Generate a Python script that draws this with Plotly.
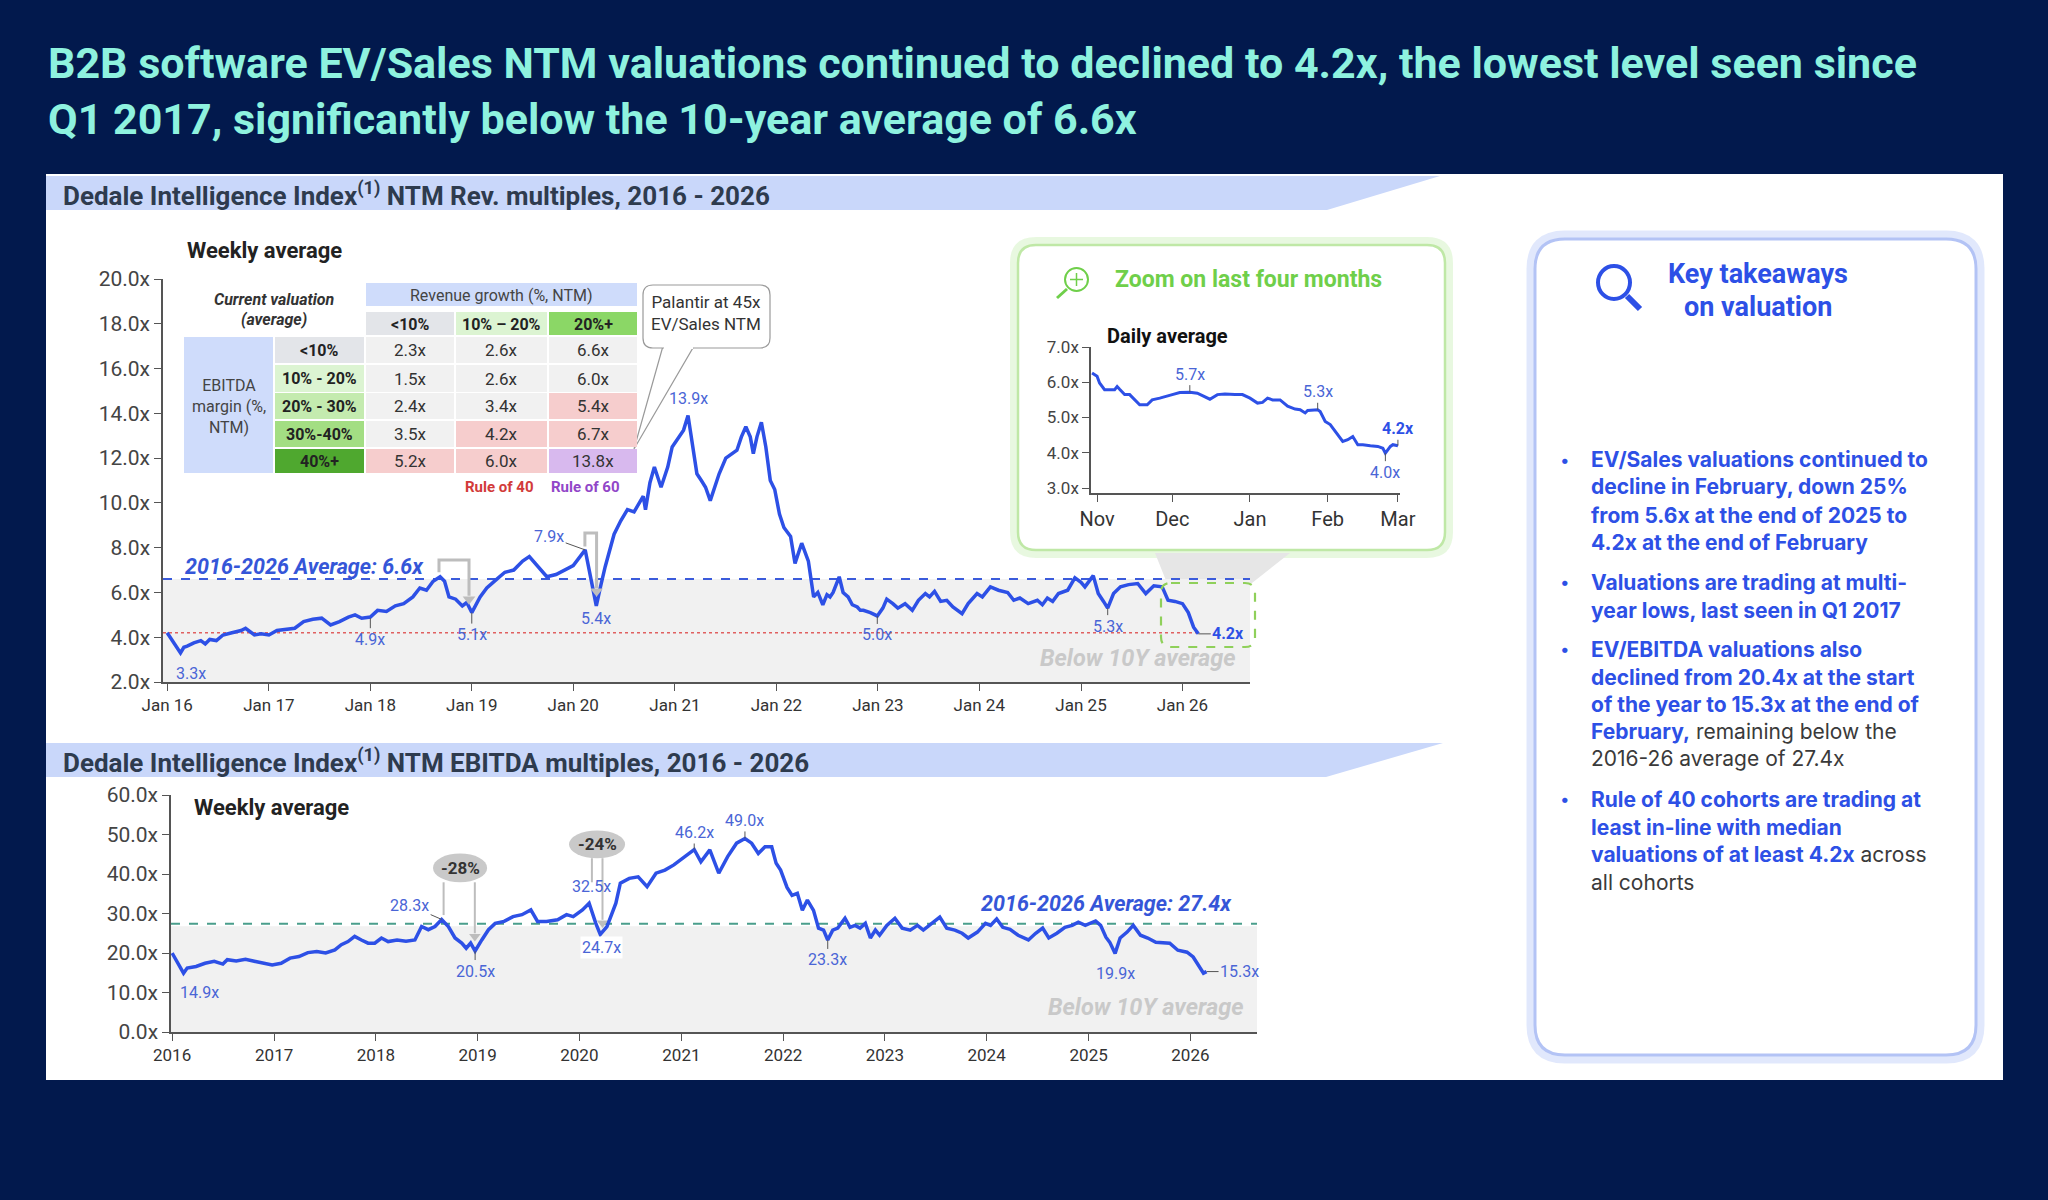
import plotly.graph_objects as go

W, H = 2048, 1200


def fx(p):
    return p / W


def fy(p):
    return 1 - p / H


NAVY = '#02194d'
BLUE = '#2d50e6'
LABEL = '#4a65d6'
AX = '#555555'
GREY_TXT = '#c9c9c9'
BRACKET = '#bdbdbd'

# ---------------------------------------------------------------- data
# EV/Sales NTM, weekly average
evs_dates = ['2016-01-01', '2016-01-12', '2016-01-25', '2016-02-18', '2016-03-01', '2016-03-13',
             '2016-04-06', '2016-05-01', '2016-05-17', '2016-06-02', '2016-06-26', '2016-07-20',
             '2016-08-21', '2016-09-23', '2016-10-09', '2016-10-25', '2016-11-10', '2016-12-04',
             '2017-01-01', '2017-01-30', '2017-03-03', '2017-04-04', '2017-05-06', '2017-06-08',
             '2017-07-10', '2017-08-11', '2017-09-12', '2017-10-14', '2017-11-07', '2017-12-01',
             '2018-01-01', '2018-01-27', '2018-02-28', '2018-04-01', '2018-05-01', '2018-06-03',
             '2018-06-28', '2018-07-22', '2018-08-15', '2018-09-09', '2018-09-25', '2018-10-11',
             '2018-11-04', '2018-11-28', '2018-12-14', '2019-01-01', '2019-01-31', '2019-02-24',
             '2019-03-28', '2019-04-30', '2019-06-01', '2019-07-03', '2019-07-27', '2019-08-28',
             '2019-09-28', '2019-10-31', '2019-12-02', '2020-01-01', '2020-02-13', '2020-03-05',
             '2020-03-24', '2020-04-09', '2020-04-25', '2020-05-27', '2020-06-20', '2020-07-14',
             '2020-08-07', '2020-09-09', '2020-09-17', '2020-10-03', '2020-10-19', '2020-11-12',
             '2020-12-06', '2020-12-22', '2021-01-16', '2021-02-01', '2021-02-17', '2021-03-05',
             '2021-03-21', '2021-04-06', '2021-04-21', '2021-05-08', '2021-05-24', '2021-06-09',
             '2021-07-03', '2021-07-27', '2021-08-12', '2021-08-28', '2021-09-13', '2021-09-29',
             '2021-10-10', '2021-10-23', '2021-11-08', '2021-11-24', '2021-12-10', '2021-12-26',
             '2022-01-12', '2022-01-28', '2022-02-21', '2022-03-09', '2022-04-02', '2022-04-26',
             '2022-05-15', '2022-05-30', '2022-06-17', '2022-07-02', '2022-07-13', '2022-07-24',
             '2022-08-15', '2022-08-29', '2022-09-16', '2022-10-01', '2022-10-19', '2022-10-30',
             '2022-11-10', '2022-12-05', '2022-12-30', '2023-01-19', '2023-02-02', '2023-02-24',
             '2023-03-14', '2023-04-09', '2023-05-05', '2023-05-27', '2023-06-21', '2023-07-06',
             '2023-07-24', '2023-08-15', '2023-09-06', '2023-09-28', '2023-10-31', '2023-11-22',
             '2023-12-24', '2024-01-12', '2024-02-10', '2024-03-10', '2024-04-12', '2024-05-04',
             '2024-05-26', '2024-06-25', '2024-07-28', '2024-08-15', '2024-09-02', '2024-09-21',
             '2024-10-12', '2024-11-14', '2024-12-10', '2025-01-01', '2025-01-15', '2025-02-14',
             '2025-03-04', '2025-03-23', '2025-04-07', '2025-04-28', '2025-05-23', '2025-06-21',
             '2025-07-24', '2025-08-22', '2025-09-20', '2025-10-20', '2025-11-10', '2025-12-05',
             '2026-01-01', '2026-01-22', '2026-02-10', '2026-02-27']
evs_vals = [4.2, 4.0, 3.7, 3.3, 3.55, 3.6,
            3.75, 3.85, 3.7, 3.9, 3.85, 4.1,
            4.2, 4.3, 4.4, 4.25, 4.1, 4.15,
            4.1, 4.3, 4.35, 4.4, 4.7, 4.8,
            4.85, 4.55, 4.7, 4.9, 5.0, 4.85,
            4.9, 5.2, 5.15, 5.4, 5.5, 5.8,
            6.2, 6.1, 6.5, 6.7, 6.5, 5.8,
            5.7, 5.4, 5.55, 5.1, 5.8, 6.2,
            6.55, 6.9, 7.0, 7.4, 7.6, 7.15,
            6.7, 6.8, 7.0, 7.2, 7.9, 6.6,
            5.4, 6.3, 7.15, 8.6, 9.2, 9.7,
            9.6, 10.3, 9.7, 10.9, 11.6, 10.7,
            11.6, 12.5, 13.0, 13.25, 13.9, 12.5,
            11.3, 11.0, 10.7, 10.1, 10.7, 11.3,
            12.0, 12.2, 12.35, 12.95, 13.4, 12.95,
            12.2, 12.95, 13.6, 12.5, 11.0, 10.6,
            9.5, 8.9, 8.5, 7.3, 8.2, 7.4,
            5.8, 6.0, 5.45, 5.9, 5.8, 6.0,
            6.7, 6.0, 5.8, 5.45, 5.35, 5.2,
            5.2, 5.1, 4.95, 5.3, 5.7, 5.5,
            5.3, 5.5, 5.2, 5.65, 5.95, 5.8,
            6.05, 5.6, 5.65, 5.35, 5.05, 5.5,
            5.95, 5.8, 6.25, 6.1, 6.0, 5.65,
            5.75, 5.5, 5.65, 5.45, 5.75, 5.6,
            5.95, 6.1, 6.65, 6.45, 6.25, 6.75,
            5.95, 5.6, 5.3, 5.95, 6.25, 6.35,
            6.4, 5.95, 6.3, 6.25, 5.65, 5.6,
            5.5, 5.1, 4.45, 4.15]

# EV/Sales, daily average, last four months
day_dates = ['2025-10-30', '2025-11-01', '2025-11-02', '2025-11-04', '2025-11-08', '2025-11-09',
             '2025-11-10', '2025-11-12', '2025-11-14', '2025-11-16', '2025-11-18', '2025-11-21',
             '2025-11-23', '2025-11-26', '2025-11-29', '2025-12-01', '2025-12-04', '2025-12-08',
             '2025-12-11', '2025-12-14', '2025-12-16', '2025-12-19', '2025-12-22', '2025-12-26',
             '2025-12-29', '2026-01-01', '2026-01-04', '2026-01-06', '2026-01-08', '2026-01-10',
             '2026-01-13', '2026-01-16', '2026-01-19', '2026-01-21', '2026-01-23', '2026-01-24',
             '2026-01-28', '2026-01-29', '2026-01-31', '2026-02-02', '2026-02-05', '2026-02-07',
             '2026-02-09', '2026-02-11', '2026-02-13', '2026-02-15', '2026-02-18', '2026-02-21',
             '2026-02-23', '2026-02-24', '2026-02-26', '2026-02-27', '2026-03-01']
day_vals = [6.26, 6.17, 5.98, 5.79, 5.79, 5.88,
            5.8, 5.65, 5.65, 5.5, 5.36, 5.36,
            5.5, 5.55, 5.6, 5.65, 5.71, 5.72,
            5.69, 5.6, 5.52, 5.65, 5.67, 5.65,
            5.65, 5.55, 5.41, 5.43, 5.55, 5.5,
            5.5, 5.32, 5.24, 5.22, 5.13, 5.2,
            5.22, 5.17, 4.89, 4.8, 4.51, 4.32,
            4.37, 4.46, 4.23, 4.23, 4.2, 4.18,
            4.13, 3.99, 4.18, 4.23, 4.2]

# EV/EBITDA NTM, weekly average
ebd_dates = ['2016-01-01', '2016-01-15', '2016-01-31', '2016-02-11', '2016-02-24', '2016-03-27',
             '2016-04-28', '2016-05-31', '2016-07-01', '2016-07-17', '2016-08-18', '2016-09-20',
             '2016-10-22', '2016-11-23', '2016-12-25', '2017-01-26', '2017-02-27', '2017-03-31',
             '2017-05-02', '2017-06-03', '2017-07-05', '2017-08-07', '2017-08-30', '2017-09-23',
             '2017-10-17', '2017-11-10', '2017-12-04', '2017-12-28', '2018-01-21', '2018-02-14',
             '2018-03-18', '2018-04-19', '2018-05-21', '2018-06-14', '2018-07-08', '2018-08-01',
             '2018-08-25', '2018-09-18', '2018-10-12', '2018-11-05', '2018-11-21', '2018-12-07',
             '2018-12-23', '2019-01-16', '2019-02-09', '2019-03-05', '2019-04-06', '2019-05-08',
             '2019-06-09', '2019-07-11', '2019-08-04', '2019-09-05', '2019-10-15', '2019-11-16',
             '2019-12-10', '2020-01-12', '2020-02-05', '2020-02-29', '2020-03-16', '2020-04-09',
             '2020-05-11', '2020-05-27', '2020-06-28', '2020-07-30', '2020-08-31', '2020-10-02',
             '2020-11-03', '2020-12-05', '2021-01-07', '2021-02-16', '2021-03-12', '2021-04-13',
             '2021-05-15', '2021-06-16', '2021-07-18', '2021-08-17', '2021-09-10', '2021-10-04',
             '2021-10-28', '2021-11-21', '2021-12-07', '2021-12-23', '2022-01-15', '2022-02-02',
             '2022-02-21', '2022-03-11', '2022-03-29', '2022-04-20', '2022-05-08', '2022-05-26',
             '2022-06-10', '2022-06-28', '2022-07-16', '2022-08-11', '2022-08-29', '2022-09-16',
             '2022-10-04', '2022-10-23', '2022-11-10', '2022-11-28', '2022-12-13', '2023-01-08',
             '2023-02-06', '2023-03-04', '2023-04-02', '2023-04-28', '2023-05-19', '2023-06-21',
             '2023-07-17', '2023-08-11', '2023-09-09', '2023-10-05', '2023-10-27', '2023-11-29',
             '2023-12-28', '2024-01-15', '2024-02-06', '2024-02-28', '2024-03-25', '2024-04-23',
             '2024-05-30', '2024-06-25', '2024-07-20', '2024-08-11', '2024-09-09', '2024-10-08',
             '2024-11-03', '2024-11-25', '2024-12-20', '2025-01-26', '2025-02-13', '2025-03-04',
             '2025-03-18', '2025-04-06', '2025-04-24', '2025-05-19', '2025-06-10', '2025-07-06',
             '2025-08-01', '2025-08-30', '2025-09-24', '2025-10-19', '2025-11-17', '2025-12-20',
             '2026-01-11', '2026-01-29', '2026-02-17', '2026-02-28']
ebd_vals = [20.0, 18.3, 16.6, 14.9, 16.2, 16.6,
            17.4, 17.9, 17.2, 18.3, 18.0, 18.4,
            17.9, 17.4, 17.0, 17.4, 18.7, 19.1,
            20.1, 20.4, 20.0, 20.8, 22.1, 22.9,
            24.2, 23.3, 22.5, 22.5, 23.8, 22.9,
            23.3, 23.0, 23.3, 26.7, 25.9, 26.7,
            28.5, 26.7, 23.8, 22.5, 21.2, 22.5,
            20.5, 23.3, 25.9, 27.5, 28.0, 29.2,
            29.7, 30.9, 28.0, 28.0, 28.4, 29.7,
            29.2, 30.9, 32.6, 27.5, 24.7, 26.7,
            32.6, 37.7, 38.9, 39.3, 36.8, 40.2,
            41.0, 42.3, 44.0, 46.2, 43.1, 46.1,
            40.2, 44.4, 47.8, 49.0, 47.8, 45.2,
            46.9, 46.9, 42.7, 41.0, 36.6, 34.6,
            35.1, 30.8, 33.4, 30.8, 26.3, 25.8,
            23.3, 25.8, 26.3, 28.8, 26.5, 27.0,
            26.3, 27.5, 23.8, 25.8, 24.5, 27.0,
            28.8, 26.3, 25.8, 27.0, 25.8, 27.8,
            29.1, 26.3, 25.8, 25.0, 23.8, 25.3,
            27.5, 27.0, 28.6, 26.5, 26.0, 24.5,
            23.3, 25.0, 26.3, 23.8, 25.0, 26.5,
            27.0, 27.8, 27.0, 28.1, 27.0, 24.0,
            22.7, 19.9, 23.8, 25.3, 27.0, 24.5,
            23.8, 22.7, 22.7, 22.5, 20.7, 20.2,
            19.0, 16.9, 14.9, 15.3]

evs_avg = 6.6
evs_now = 4.2
ebd_avg = 27.4

# valuation grid (EBITDA margin rows x revenue growth columns)
growth_cols = ['&lt;10%', '10% – 20%', '20%+']
margin_rows = ['&lt;10%', '10% - 20%', '20% - 30%', '30%-40%', '40%+']
grid_vals = [[2.3, 2.6, 6.6],
             [1.5, 2.6, 6.0],
             [2.4, 3.4, 5.4],
             [3.5, 4.2, 6.7],
             [5.2, 6.0, 13.8]]
grid_flag = [['', '', ''],
             ['', '', ''],
             ['', '', 'r40'],
             ['', 'r40', 'r40'],
             ['r40', 'r40', 'r60']]

fig = go.Figure()


def line_trace(x, y, xa, ya, color=BLUE, width=3.5):
    fig.add_trace(go.Scatter(x=x, y=y, mode='lines', line=dict(color=color, width=width),
                             xaxis=xa, yaxis=ya, hoverinfo='skip', showlegend=False))


def arrow_tip(x, y, xa, ya, size=11):
    fig.add_trace(go.Scatter(x=[x], y=[y], mode='markers',
                             marker=dict(symbol='triangle-down', size=size, color=BRACKET),
                             xaxis=xa, yaxis=ya, hoverinfo='skip', showlegend=False))


# ---------------------------------------------------------------- traces
line_trace(evs_dates, evs_vals, 'x', 'y')
# grey drop brackets (top chart)
line_trace(['2018-09-05', '2018-09-05', '2018-12-22', '2018-12-22'], [6.9, 7.45, 7.45, 5.85],
           'x', 'y', color=BRACKET, width=3)
arrow_tip('2018-12-22', 5.7, 'x', 'y')
line_trace(['2020-02-12', '2020-02-12', '2020-03-25', '2020-03-25'], [8.05, 8.65, 8.65, 6.2],
           'x', 'y', color=BRACKET, width=3)
arrow_tip('2020-03-25', 6.05, 'x', 'y')

line_trace(day_dates, day_vals, 'x2', 'y2', width=3)

# drop markers (bottom chart)
line_trace(['2018-09-01', '2018-09-01'], [37.9, 29.6], 'x3', 'y3', color=BRACKET, width=2)
line_trace(['2018-12-22', '2018-12-22'], [37.9, 25.0], 'x3', 'y3', color=BRACKET, width=2)
arrow_tip('2018-12-22', 24.2, 'x3', 'y3', size=10)
line_trace(['2020-02-15', '2020-02-15'], [44.0, 37.9], 'x3', 'y3', color=BRACKET, width=2)
line_trace(['2020-03-24', '2020-03-24'], [44.0, 28.4], 'x3', 'y3', color=BRACKET, width=2)
arrow_tip('2020-03-24', 27.6, 'x3', 'y3', size=10)

line_trace(ebd_dates, ebd_vals, 'x3', 'y3')

# ---------------------------------------------------------------- shapes
shapes = []


def rect(x0, y0, x1, y1, fill, line=None, lw=0, layer='below'):
    shapes.append(dict(type='rect', xref='paper', yref='paper', x0=fx(x0), x1=fx(x1),
                       y0=fy(y1), y1=fy(y0), fillcolor=fill,
                       line=dict(width=lw, color=line or fill), layer=layer))


def poly(pts, fill, line=None, lw=0, layer='below'):
    p = 'M ' + ' L '.join(f'{fx(a):.5f},{fy(b):.5f}' for a, b in pts) + ' Z'
    shapes.append(dict(type='path', xref='paper', yref='paper', path=p, fillcolor=fill,
                       line=dict(width=lw, color=line or fill), layer=layer))


def rrect(x0, y0, x1, y1, r, fill, line, lw, dash='solid', layer='below'):
    rx, ry = r / W, r / H
    X0, X1, T, B = fx(x0), fx(x1), fy(y0), fy(y1)
    p = (f'M {X0+rx},{T} L {X1-rx},{T} Q {X1},{T} {X1},{T-ry} L {X1},{B+ry} '
         f'Q {X1},{B} {X1-rx},{B} L {X0+rx},{B} Q {X0},{B} {X0},{B+ry} '
         f'L {X0},{T-ry} Q {X0},{T} {X0+rx},{T} Z')
    shapes.append(dict(type='path', xref='paper', yref='paper', path=p, fillcolor=fill,
                       line=dict(width=lw, color=line, dash=dash), layer=layer))


# white slide panel and header bands
rect(46, 174, 2003, 1080, 'white')
poly([(46, 176), (1440, 176), (1327, 210), (46, 210)], '#c9d7fa')
poly([(46, 743), (1443, 743), (1326, 777), (46, 777)], '#c9d7fa')

# inset box with soft green glow
rrect(1014, 241, 1449, 554, 22, 'rgba(0,0,0,0)', 'rgba(190,235,165,0.35)', 8)
rrect(1018, 245, 1445, 550, 18, 'white', '#bfe8a6', 2.5)
# wedge joining inset and zoomed region
poly([(1155, 553), (1290, 553), (1252, 583), (1167, 583)], '#e6e6e6')

# right-hand takeaways panel
rrect(1531, 235, 1980, 1059, 34, 'rgba(0,0,0,0)', 'rgba(170,188,245,0.35)', 9)
rrect(1535, 239, 1976, 1055, 30, 'white', '#b3c3f5', 3)

# Palantir callout
poly([(663, 346), (634, 449), (694, 346)], 'white', '#9a9a9a', 1.2)
rrect(643, 285, 770, 348, 10, 'white', '#9a9a9a', 1.2)
rect(664, 343, 693, 349, 'white')

# valuation grid
col_x = [(366, 454), (456, 547), (549, 637)]
row_y = [(337, 363), (365, 392), (393, 419), (421, 447), (449, 473)]
row_fill = ['#e3e5e9', '#dcf4d2', '#c4ebaf', '#a3de83', '#4fa82f']
col_fill = ['#e3e5e9', '#dcf4d2', '#8bd766']
flag_fill = {'': '#f1f1f1', 'r40': '#f6cdcd', 'r60': '#d8b9ee'}
rect(366, 283, 637, 306, '#cfdcfb')
rect(184, 337, 273, 473, '#cfdcfb')
for j, (a, b) in enumerate(col_x):
    rect(a, 312, b, 335, col_fill[j])
for i, (t, bt) in enumerate(row_y):
    rect(275, t, 364, bt, row_fill[i])
    for j, (a, b) in enumerate(col_x):
        rect(a, t, b, bt, flag_fill[grid_flag[i][j]])

# chart reference bands and lines
shapes.append(dict(type='rect', xref='x', yref='y', x0='2015-12-17', x1='2026-09-01',
                   y0=2, y1=evs_avg, fillcolor='#f1f1f1', line=dict(width=0), layer='below'))
shapes.append(dict(type='line', xref='x', yref='y', x0='2015-12-17', x1='2026-09-01',
                   y0=evs_avg, y1=evs_avg, line=dict(color='#3b5bdb', width=2, dash='dash'),
                   layer='below'))
shapes.append(dict(type='line', xref='x', yref='y', x0='2015-12-17', x1='2026-02-20',
                   y0=evs_now, y1=evs_now, line=dict(color='#e06060', width=1.5, dash='dot'),
                   layer='below'))
shapes.append(dict(type='rect', xref='x3', yref='y3', x0='2015-12-28', x1='2026-08-28',
                   y0=0, y1=26.8, fillcolor='#f1f1f1', line=dict(width=0), layer='below'))
shapes.append(dict(type='line', xref='x3', yref='y3', x0='2015-12-28', x1='2026-08-28',
                   y0=ebd_avg, y1=ebd_avg, line=dict(color='#4a9e8c', width=2, dash='dash'),
                   layer='below'))
# grey bubbles for the drawdowns
shapes.append(dict(type='circle', xref='x3', yref='y3', x0='2018-07-25', x1='2019-02-04',
                   y0=37.9, y1=45.2, fillcolor='#c9c9c9', line=dict(width=0)))
shapes.append(dict(type='circle', xref='x3', yref='y3', x0='2019-11-25', x1='2020-06-13',
                   y0=44.0, y1=51.0, fillcolor='#c9c9c9', line=dict(width=0)))

# dashed green box on the last months
rrect(1161, 583, 1255, 647, 10, 'rgba(0,0,0,0)', '#8fd05a', 2.2, dash='dash', layer='above')

# magnifier icons
shapes.append(dict(type='circle', xref='paper', yref='paper', x0=fx(1065), x1=fx(1088),
                   y0=fy(291), y1=fy(268), line=dict(color='#6fcf4a', width=2)))
shapes.append(dict(type='line', xref='paper', yref='paper', x0=fx(1067), x1=fx(1057),
                   y0=fy(289), y1=fy(298), line=dict(color='#6fcf4a', width=3)))
shapes.append(dict(type='line', xref='paper', yref='paper', x0=fx(1070), x1=fx(1083),
                   y0=fy(279.5), y1=fy(279.5), line=dict(color='#6fcf4a', width=1.5)))
shapes.append(dict(type='line', xref='paper', yref='paper', x0=fx(1076.5), x1=fx(1076.5),
                   y0=fy(273), y1=fy(286), line=dict(color='#6fcf4a', width=1.5)))
shapes.append(dict(type='circle', xref='paper', yref='paper', x0=fx(1598), x1=fx(1630),
                   y0=fy(299), y1=fy(266), line=dict(color=BLUE, width=4)))
shapes.append(dict(type='line', xref='paper', yref='paper', x0=fx(1627), x1=fx(1640),
                   y0=fy(296), y1=fy(309), line=dict(color=BLUE, width=6)))

# ---------------------------------------------------------------- annotations
ann = []


def ptxt(x, y, s, size=15, color='#333', xanchor='center', yanchor='middle',
         family='Roboto', **kw):
    ann.append(dict(x=fx(x), y=fy(y), xref='paper', yref='paper', text=s, showarrow=False,
                    xanchor=xanchor, yanchor=yanchor,
                    font=dict(size=size, color=color, family=family), **kw))


def dtxt(x, y, s, ax='x', ay='y', size=16, color=LABEL, xanchor='center', **kw):
    ann.append(dict(x=x, y=y, xref=ax, yref=ay, text=s, showarrow=False, xanchor=xanchor,
                    font=dict(size=size, color=color, family='Roboto'), **kw))


def tick_lab(x, y, s, dx, dy, ax='x', ay='y', size=16, color=LABEL):
    ann.append(dict(x=x, y=y, xref=ax, yref=ay, text=s, showarrow=True, arrowhead=0,
                    arrowwidth=1, arrowcolor='#555', ax=dx, ay=dy, standoff=0,
                    font=dict(size=size, color=color, family='Roboto')))


# title
ptxt(46, 63, '<b>B2B software EV/Sales NTM valuations continued to declined to 4.2x, '
             'the lowest level seen since</b>', size=43, color='#8ef2df', xanchor='left')
ptxt(46, 119, '<b>Q1 2017, significantly below the 10-year average of 6.6x</b>',
     size=43, color='#8ef2df', xanchor='left')

# band headers
ptxt(61, 194, '<b>Dedale Intelligence Index<sup>(1)</sup> NTM Rev. multiples, 2016 - 2026</b>',
     size=26, color='#2e3b4e', xanchor='left')
ptxt(61, 761, '<b>Dedale Intelligence Index<sup>(1)</sup> NTM EBITDA multiples, 2016 - 2026</b>',
     size=26, color='#2e3b4e', xanchor='left')

ptxt(185, 250, '<b>Weekly average</b>', size=22, color='#222', xanchor='left')
ptxt(192, 807, '<b>Weekly average</b>', size=22, color='#222', xanchor='left')

# grid text
ptxt(274, 299, '<b><i>Current valuation</i></b>', size=16, color='#333')
ptxt(274, 319, '<b><i>(average)</i></b>', size=16, color='#333')
ptxt(501, 295, 'Revenue growth (%, NTM)', size=16, color='#444')
ptxt(229, 406, 'EBITDA<br>margin (%,<br>NTM)', size=16, color='#444')
for j, (a, b) in enumerate(col_x):
    ptxt((a + b) / 2, 324, f'<b>{growth_cols[j]}</b>', size=16, color='#222')
for i, (t, bt) in enumerate(row_y):
    ptxt(319.5, (t + bt) / 2, f'<b>{margin_rows[i]}</b>', size=16, color='#222')
    for j, (a, b) in enumerate(col_x):
        ptxt((a + b) / 2, (t + bt) / 2, f'{grid_vals[i][j]:.1f}x', size=17, color='#333')
ptxt(499, 487, '<b>Rule of 40</b>', size=15, color='#d23a3a')
ptxt(585, 487, '<b>Rule of 60</b>', size=15, color='#9146c8')
ptxt(706, 313, 'Palantir at 45x<br>EV/Sales NTM', size=17, color='#333')

# top chart labels
dtxt('2016-03-25', 2.4, '3.3x')
tick_lab('2018-01-01', 4.85, '4.9x', 0, 21)
tick_lab('2019-01-01', 5.1, '5.1x', 0, 22)
tick_lab('2020-02-13', 7.9, '7.9x', -36, -13)
dtxt('2020-03-24', 4.85, '5.4x')
dtxt('2021-02-17', 14.65, '13.9x')
tick_lab('2022-12-30', 4.95, '5.0x', 0, 19)
tick_lab('2025-04-07', 5.3, '5.3x', 0, 18)
tick_lab('2026-02-27', 4.15, '<b>4.2x</b>', 30, 0, color='#2d50e6')
dtxt('2016-02-26', 7.15, '<b><i>2016-2026 Average: 6.6x</i></b>', size=21.5, color='#3556d8',
     xanchor='left')
dtxt('2026-07-20', 3.05, '<b><i>Below 10Y average</i></b>', size=23.5, color=GREY_TXT,
     xanchor='right')

# inset
ptxt(1113, 279, '<b>Zoom on last four months</b>', size=23, color='#6fcf4a', xanchor='left')
ptxt(1105, 336, '<b>Daily average</b>', size=20, color='#111', xanchor='left')
tick_lab('2025-12-08', 5.72, '5.7x', 0, -18, ax='x2', ay='y2')
tick_lab('2026-01-28', 5.22, '5.3x', 0, -18, ax='x2', ay='y2')
tick_lab('2026-03-01', 4.2, '<b>4.2x</b>', 0, -17, ax='x2', ay='y2', color='#2d50e6')
tick_lab('2026-02-24', 3.99, '4.0x', 0, 19, ax='x2', ay='y2')

# bottom chart labels
dtxt('2016-04-10', 9.9, '14.9x', ax='x3', ay='y3')
tick_lab('2018-08-25', 28.5, '28.3x', -32, -14, ax='x3', ay='y3')
tick_lab('2018-12-23', 20.5, '20.5x', 0, 20, ax='x3', ay='y3')
dtxt('2020-02-12', 36.8, '32.5x', ax='x3', ay='y3')
dtxt('2020-03-22', 21.4, '24.7x', ax='x3', ay='y3', bgcolor='white')
tick_lab('2021-02-16', 46.2, '46.2x', 0, -17, ax='x3', ay='y3')
tick_lab('2021-08-17', 49.0, '49.0x', 0, -18, ax='x3', ay='y3')
tick_lab('2022-06-10', 23.3, '23.3x', 0, 20, ax='x3', ay='y3')
dtxt('2025-04-06', 14.9, '19.9x', ax='x3', ay='y3')
tick_lab('2026-02-28', 15.3, '15.3x', 33, 0, ax='x3', ay='y3')
dtxt('2018-11-01', 41.5, '<b>-28%</b>', ax='x3', ay='y3', size=17, color='#333')
dtxt('2020-03-05', 47.5, '<b>-24%</b>', ax='x3', ay='y3', size=17, color='#333')
dtxt('2025-03-05', 32.6, '<b><i>2016-2026 Average: 27.4x</i></b>', ax='x3', ay='y3',
     size=21.5, color='#3556d8')
dtxt('2026-07-20', 6.4, '<b><i>Below 10Y average</i></b>', ax='x3', ay='y3', size=23.5,
     color=GREY_TXT, xanchor='right')

# takeaways panel
ptxt(1758, 274, '<b>Key takeaways</b>', size=27, color=BLUE)
ptxt(1758, 307, '<b>on valuation</b>', size=27, color=BLUE)

B = "<b><span style='color:#2d50e6'>"
E = '</span></b>'
take_lines = [
    (460, B + 'EV/Sales valuations continued to' + E, True),
    (487, B + 'decline in February, down 25%' + E, False),
    (515, B + 'from 5.6x at the end of 2025 to' + E, False),
    (542, B + '4.2x at the end of February' + E, False),
    (582, B + 'Valuations are trading at multi-' + E, True),
    (610, B + 'year lows, last seen in Q1 2017' + E, False),
    (649, B + 'EV/EBITDA valuations also' + E, True),
    (677, B + 'declined from 20.4x at the start' + E, False),
    (704, B + 'of the year to 15.3x at the end of' + E, False),
    (731, B + 'February,' + E + ' remaining below the', False),
    (759, '2016-26 average of 27.4x', False),
    (799, B + 'Rule of 40 cohorts are trading at' + E, True),
    (827, B + 'least in-line with median' + E, False),
    (854, B + 'valuations of at least 4.2x' + E + ' across', False),
    (882, 'all cohorts', False),
]
for yy, s, first in take_lines:
    ptxt(1589, yy, s, size=21, color='#3a3a3a', xanchor='left', family='Inter')
    if first:
        ptxt(1565, yy, '•', size=17, color=BLUE, family='Inter')

# ---------------------------------------------------------------- layout
tickf = dict(size=21, color='#444', family='Roboto')
xtickf = dict(size=17, color='#333', family='Roboto')
common = dict(showgrid=False, zeroline=False, showline=True, linecolor=AX, linewidth=1.5,
              ticks='outside', ticklen=7, tickcolor=AX, fixedrange=True, automargin=False)

fig.update_layout(
    width=W, height=H,
    margin=dict(l=0, r=0, t=0, b=0, pad=0, autoexpand=False),
    paper_bgcolor=NAVY,
    plot_bgcolor='rgba(0,0,0,0)',
    showlegend=False,
    font=dict(family='Roboto', color='#333'),
    xaxis=dict(domain=[fx(163), fx(1250)], range=['2015-12-17', '2026-09-01'], type='date',
               tick0='2016-01-01', dtick='M12', tickformat='%b %y', tickfont=xtickf,
               anchor='y', **common),
    yaxis=dict(domain=[fy(682), fy(279)], range=[2, 20], dtick=2, tickformat='.1f',
               ticksuffix='x', tickfont=tickf, anchor='x', **common),
    xaxis2=dict(domain=[fx(1091), fx(1400)], range=['2025-10-29 14:00', '2026-03-01 20:00'],
                type='date', tick0='2025-11-01', dtick='M1', tickformat='%b',
                tickfont=dict(size=20, color='#333', family='Roboto'), anchor='y2', **common),
    yaxis2=dict(domain=[fy(493), fy(347)], range=[2.86, 7.0], dtick=1, tickformat='.1f',
                ticksuffix='x', tickfont=dict(size=17, color='#444', family='Roboto'),
                anchor='x2', **common),
    xaxis3=dict(domain=[fx(171), fx(1257)], range=['2015-12-28', '2026-08-28'], type='date',
                tick0='2016-01-01', dtick='M12', tickformat='%Y', tickfont=xtickf,
                anchor='y3', **common),
    yaxis3=dict(domain=[fy(1032), fy(795)], range=[0, 60], dtick=10, tickformat='.1f',
                ticksuffix='x', tickfont=tickf, anchor='x3', **common),
    shapes=shapes,
    annotations=ann,
)

fig.write_html('out.html', config={'displayModeBar': False},
               post_script="document.body.style.margin='0px';"
                           "document.body.style.overflow='hidden';")
